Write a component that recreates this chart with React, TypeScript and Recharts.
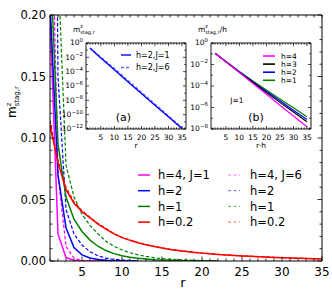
import React from 'react';
import { LineChart, Line, XAxis, YAxis } from 'recharts';

const FONT = "'DejaVu Sans', sans-serif";
const W = 332;
const H = 291;

// ---------------- main panel data ----------------
const rMagenta = [1, 2, 3, 4, 5, 6, 7, 8];
const magentaJ1 = [0.2, 0.022, 0.0028, 0.0005, 0.0001, 0.00002, 0.000004, 0.000001];
const magentaJ6 = [0.36, 0.07, 0.012, 0.0022, 0.0004, 0.0001, 0.00002, 0.000005];

const rBlue = [1, 2, 3, 4, 5, 6, 7, 8, 9, 10, 11, 12];
const blueJ1 = [0.21, 0.07, 0.027, 0.011, 0.005, 0.0025, 0.0012, 0.0006, 0.0003, 0.00015, 0.00008, 0.00004];
const blueJ6 = [0.9, 0.15, 0.042, 0.022, 0.013, 0.0075, 0.0042, 0.0024, 0.0014, 0.0008, 0.00045, 0.00025];

const rGreen = [1, 2, 3, 4, 5, 6, 7, 8, 9, 10, 11, 12, 13, 14, 15, 16, 17, 18, 19, 20, 21, 22];
const greenJ1 = [0.25, 0.095, 0.052, 0.034, 0.024, 0.017, 0.012, 0.0085, 0.006, 0.0043, 0.003, 0.0022, 0.0016, 0.0011, 0.0008, 0.0006, 0.0004, 0.0003, 0.0002, 0.00015, 0.0001, 0.00007];
const greenJ6 = [0.7, 0.24, 0.078, 0.052, 0.038, 0.029, 0.022, 0.016, 0.012, 0.009, 0.0067, 0.005, 0.0037, 0.0027, 0.002, 0.0015, 0.0011, 0.0008, 0.0006, 0.00045, 0.0003, 0.0002];

const rRed = [1, 2, 3, 4, 5, 6, 7, 8, 9, 10, 11, 12, 13, 14, 15, 16, 17, 18, 19, 20, 21, 22, 23, 24, 25, 26, 27, 28, 29, 30, 31, 32, 33, 34, 35];
const redJ1 = [0.11, 0.08, 0.058, 0.047, 0.04, 0.035, 0.03, 0.026, 0.022, 0.019, 0.0168, 0.0148, 0.0132, 0.0118, 0.0105, 0.0094, 0.0085, 0.0077, 0.007, 0.0064, 0.0058, 0.0053, 0.0049, 0.0045, 0.0041, 0.0038, 0.0035, 0.0032, 0.0029, 0.0027, 0.0024, 0.0022, 0.002, 0.0018, 0.0016];
const redJ6 = [0.114, 0.082, 0.06, 0.048, 0.041, 0.0355, 0.0305, 0.0264, 0.0224, 0.0193, 0.017, 0.015, 0.0134, 0.012, 0.0107, 0.0096, 0.0087, 0.0079, 0.0072, 0.0065, 0.0059, 0.0054, 0.005, 0.0046, 0.0042, 0.0039, 0.0036, 0.0033, 0.003, 0.0028, 0.0025, 0.0023, 0.0021, 0.0019, 0.0017];

const mainXTicks = [1, 2, 3, 4, 5, 6, 7, 8, 9, 10, 11, 12, 13, 14, 15, 16, 17, 18, 19, 20, 21, 22, 23, 24, 25, 26, 27, 28, 29, 30, 31, 32, 33, 34, 35];
const mainYTicks = [0, 0.01, 0.02, 0.03, 0.04, 0.05, 0.06, 0.07, 0.08, 0.09, 0.1, 0.11, 0.12, 0.13, 0.14, 0.15, 0.16, 0.17, 0.18, 0.19, 0.2];
const mainXLabels = [5, 10, 15, 20, 25, 30, 35];
const mainYLabels = [0, 0.05, 0.1, 0.15, 0.2];

const legendLeft = ['h=4, J=1', 'h=2', 'h=1', 'h=0.2'];
const legendRight = ['h=4, J=6', 'h=2', 'h=1', 'h=0.2'];
const hColors = ['#ff00ff', '#0000ff', '#008000', '#ff0000'];

// ---------------- inset (a) data ----------------
const rInset = [1, 5, 10, 15, 20, 25, 30, 35];
const insetA_J1 = [1.8e-1, 8e-3, 1.8e-4, 4e-6, 9e-8, 2e-9, 5e-11, 1.2e-12];
const insetA_J6 = [2e-1, 1.1e-2, 2.8e-4, 6.5e-6, 1.4e-7, 3.2e-9, 7e-11, 1.6e-12];
const insetALegend = ['h=2,J=1', 'h=2,J=6'];

// ---------------- inset (b) data ----------------
const insetB_h4 = [1.1e-1, 1.8e-2, 1.8e-3, 1.7e-4, 1.7e-5, 1.6e-6, 1.6e-7, 1.6e-8];
const insetB_h3 = [1.1e-1, 1.8e-2, 1.9e-3, 2.2e-4, 2.5e-5, 3e-6, 3.8e-7, 4.8e-8];
const insetB_h2 = [1.1e-1, 1.9e-2, 2e-3, 2.5e-4, 3.2e-5, 4.2e-6, 5.6e-7, 7.6e-8];
const insetB_h1 = [1.1e-1, 1.9e-2, 2.2e-3, 3e-4, 4.3e-5, 6.3e-6, 9.5e-7, 1.4e-7];
const insetBLegend = ['h=4', 'h=3', 'h=2', 'h=1'];
const insetBColors = ['#ff00ff', '#000000', '#0000ff', '#008000'];

const insetXTicks = [0, 1, 2, 3, 4, 5, 6, 7, 8, 9, 10, 11, 12, 13, 14, 15, 16, 17, 18, 19, 20, 21, 22, 23, 24, 25, 26, 27, 28, 29, 30, 31, 32, 33, 34, 35, 36];
const insetXLabels = [5, 10, 15, 20, 25, 30, 35];
const insetAYTicks = [1, 1e-1, 1e-2, 1e-3, 1e-4, 1e-5, 1e-6, 1e-7, 1e-8, 1e-9, 1e-10, 1e-11, 1e-12];
const insetBYTicks = [1, 1e-1, 1e-2, 1e-3, 1e-4, 1e-5, 1e-6, 1e-7, 1e-8];

const rows = (rs: number[], vs: number[]) => rs.map((r, i) => ({ r, v: vs[i] }));

// ---------------- tick renderers ----------------
const makeXTick = (labels: number[] | null, major: number, minor: number, dir: number, fs: number, dy: number) =>
  (props: any) => {
    const { x, y, payload } = props;
    const v = payload.value;
    const isMajor = labels ? labels.includes(v) : false;
    const len = isMajor ? major : minor;
    return (
      <g>
        <line x1={x} x2={x} y1={y} y2={y + dir * len} stroke="#000" strokeWidth={0.8} />
        {labels && isMajor && dir < 0 ? (
          <text x={x} y={y + dy} textAnchor="middle" fontSize={fs} fontFamily={FONT} fill="#000">{v}</text>
        ) : null}
      </g>
    );
  };

const makeYTick = (labels: number[], major: number, minor: number, dir: number, fs: number, showLabel: boolean) =>
  (props: any) => {
    const { x, y, payload } = props;
    const v = payload.value;
    const isMajor = labels.some((l) => Math.abs(l - v) < 1e-9);
    const len = isMajor ? major : minor;
    return (
      <g>
        <line x1={x} x2={x + dir * len} y1={y} y2={y} stroke="#000" strokeWidth={0.8} />
        {showLabel && isMajor ? (
          <text x={x - 4} y={y} dy="0.36em" textAnchor="end" fontSize={fs} fontFamily={FONT} fill="#000">{v.toFixed(2)}</text>
        ) : null}
      </g>
    );
  };

const makeLogYTick = (labelEvery: number, dir: number, showLabel: boolean) =>
  (props: any) => {
    const { x, y, payload } = props;
    const e = Math.round(Math.log10(payload.value));
    const isMajor = e % labelEvery === 0;
    const len = isMajor ? 3 : 1.8;
    return (
      <g>
        <line x1={x} x2={x + dir * len} y1={y} y2={y} stroke="#000" strokeWidth={0.7} />
        {showLabel && isMajor ? (
          <text x={x - 3} y={y} dy="0.32em" textAnchor="end" fontSize={7.5} fontFamily={FONT} fill="#000">
            10<tspan fontSize={5.5} dy={-3.5}>{String(e).replace('-', '\u2212')}</tspan>
          </text>
        ) : null}
      </g>
    );
  };

const abs: React.CSSProperties = { position: 'absolute', left: 0, top: 0 };

// plot box of the main panel: x 50..322, y 15..261 (axes take 1px each outside)
const MainChart = () => (
  <LineChart width={W} height={H} margin={{ top: 14, right: 9, bottom: 29, left: 49 }}>
    <XAxis xAxisId="b" dataKey="r" type="number" domain={[1, 35]} allowDataOverflow ticks={mainXTicks} interval={0}
      height={1} tickSize={0} tickMargin={0} tickLine={false} axisLine={{ stroke: '#000' }}
      tick={makeXTick(mainXLabels, 4.5, 2.5, -1, 12, 15)} />
    <XAxis xAxisId="t" orientation="top" dataKey="r" type="number" domain={[1, 35]} allowDataOverflow ticks={mainXTicks} interval={0}
      height={1} tickSize={0} tickMargin={0} tickLine={false} axisLine={{ stroke: '#000' }}
      tick={makeXTick(null, 4.5, 2.5, 1, 12, 0)} />
    <YAxis yAxisId="l" type="number" domain={[0, 0.2]} allowDataOverflow ticks={mainYTicks} interval={0}
      width={1} tickSize={0} tickMargin={0} tickLine={false} axisLine={{ stroke: '#000' }}
      tick={makeYTick(mainYLabels, 4.5, 2.5, 1, 11.5, true)} />
    <YAxis yAxisId="r" orientation="right" type="number" domain={[0, 0.2]} allowDataOverflow ticks={mainYTicks} interval={0}
      width={1} tickSize={0} tickMargin={0} tickLine={false} axisLine={{ stroke: '#000' }}
      tick={makeYTick(mainYLabels, 4.5, 2.5, -1, 11.5, false)} />
    <Line xAxisId="b" yAxisId="l" data={rows(rRed, redJ6)} dataKey="v" stroke={hColors[3]} strokeWidth={1.2} strokeDasharray="3.5 2" dot={false} isAnimationActive={false} />
    <Line xAxisId="b" yAxisId="l" data={rows(rGreen, greenJ6)} dataKey="v" stroke={hColors[2]} strokeWidth={1.2} strokeDasharray="3.5 2" dot={false} isAnimationActive={false} />
    <Line xAxisId="b" yAxisId="l" data={rows(rBlue, blueJ6)} dataKey="v" stroke={hColors[1]} strokeWidth={1.2} strokeDasharray="3.5 2" dot={false} isAnimationActive={false} />
    <Line xAxisId="b" yAxisId="l" data={rows(rMagenta, magentaJ6)} dataKey="v" stroke={hColors[0]} strokeWidth={1.2} strokeDasharray="3.5 2" dot={false} isAnimationActive={false} />
    <Line xAxisId="b" yAxisId="l" data={rows(rMagenta, magentaJ1)} dataKey="v" stroke={hColors[0]} strokeWidth={1.5} dot={false} isAnimationActive={false} />
    <Line xAxisId="b" yAxisId="l" data={rows(rBlue, blueJ1)} dataKey="v" stroke={hColors[1]} strokeWidth={1.5} dot={false} isAnimationActive={false} />
    <Line xAxisId="b" yAxisId="l" data={rows(rGreen, greenJ1)} dataKey="v" stroke={hColors[2]} strokeWidth={1.5} dot={false} isAnimationActive={false} />
    <Line xAxisId="b" yAxisId="l" data={rows(rRed, redJ1)} dataKey="v" stroke={hColors[3]} strokeWidth={1.5} dot={false} isAnimationActive={false} />
  </LineChart>
);

const InsetA = () => (
  <LineChart width={W} height={H} margin={{ top: 42, right: 145, bottom: 161, left: 85 }}>
    <XAxis xAxisId="b" dataKey="r" type="number" domain={[-0.5, 36.5]} allowDataOverflow ticks={insetXTicks} interval={0}
      height={1} tickSize={0} tickMargin={0} tickLine={false} axisLine={{ stroke: '#000', strokeWidth: 0.9 }}
      tick={makeXTick(insetXLabels, 3, 1.6, -1, 7.5, 10.5)} />
    <XAxis xAxisId="t" orientation="top" dataKey="r" type="number" domain={[-0.5, 36.5]} allowDataOverflow ticks={insetXTicks} interval={0}
      height={1} tickSize={0} tickMargin={0} tickLine={false} axisLine={{ stroke: '#000', strokeWidth: 0.9 }}
      tick={makeXTick(insetXLabels, 3, 1.6, 1, 7.5, 0)} />
    <YAxis yAxisId="l" type="number" scale="log" domain={[1e-12, 1]} allowDataOverflow ticks={insetAYTicks} interval={0}
      width={1} tickSize={0} tickMargin={0} tickLine={false} axisLine={{ stroke: '#000', strokeWidth: 0.9 }}
      tick={makeLogYTick(2, 1, true)} />
    <YAxis yAxisId="r" orientation="right" type="number" scale="log" domain={[1e-12, 1]} allowDataOverflow ticks={insetAYTicks} interval={0}
      width={1} tickSize={0} tickMargin={0} tickLine={false} axisLine={{ stroke: '#000', strokeWidth: 0.9 }}
      tick={makeLogYTick(2, -1, false)} />
    <Line xAxisId="b" yAxisId="l" data={rows(rInset, insetA_J6)} dataKey="v" stroke="#6666ff" strokeWidth={1.2} strokeDasharray="3 2" dot={false} isAnimationActive={false} />
    <Line xAxisId="b" yAxisId="l" data={rows(rInset, insetA_J1)} dataKey="v" stroke="#0000ff" strokeWidth={1.4} dot={false} isAnimationActive={false} />
  </LineChart>
);

const InsetB = () => (
  <LineChart width={W} height={H} margin={{ top: 42, right: 20, bottom: 161, left: 210 }}>
    <XAxis xAxisId="b" dataKey="r" type="number" domain={[-0.5, 36.5]} allowDataOverflow ticks={insetXTicks} interval={0}
      height={1} tickSize={0} tickMargin={0} tickLine={false} axisLine={{ stroke: '#000', strokeWidth: 0.9 }}
      tick={makeXTick(insetXLabels, 3, 1.6, -1, 7.5, 10.5)} />
    <XAxis xAxisId="t" orientation="top" dataKey="r" type="number" domain={[-0.5, 36.5]} allowDataOverflow ticks={insetXTicks} interval={0}
      height={1} tickSize={0} tickMargin={0} tickLine={false} axisLine={{ stroke: '#000', strokeWidth: 0.9 }}
      tick={makeXTick(insetXLabels, 3, 1.6, 1, 7.5, 0)} />
    <YAxis yAxisId="l" type="number" scale="log" domain={[1e-8, 1]} allowDataOverflow ticks={insetBYTicks} interval={0}
      width={1} tickSize={0} tickMargin={0} tickLine={false} axisLine={{ stroke: '#000', strokeWidth: 0.9 }}
      tick={makeLogYTick(2, 1, true)} />
    <YAxis yAxisId="r" orientation="right" type="number" scale="log" domain={[1e-8, 1]} allowDataOverflow ticks={insetBYTicks} interval={0}
      width={1} tickSize={0} tickMargin={0} tickLine={false} axisLine={{ stroke: '#000', strokeWidth: 0.9 }}
      tick={makeLogYTick(2, -1, false)} />
    <Line xAxisId="b" yAxisId="l" data={rows(rInset, insetB_h1)} dataKey="v" stroke={insetBColors[3]} strokeWidth={1.2} dot={false} isAnimationActive={false} />
    <Line xAxisId="b" yAxisId="l" data={rows(rInset, insetB_h2)} dataKey="v" stroke={insetBColors[2]} strokeWidth={1.2} dot={false} isAnimationActive={false} />
    <Line xAxisId="b" yAxisId="l" data={rows(rInset, insetB_h3)} dataKey="v" stroke={insetBColors[1]} strokeWidth={1.2} dot={false} isAnimationActive={false} />
    <Line xAxisId="b" yAxisId="l" data={rows(rInset, insetB_h4)} dataKey="v" stroke={insetBColors[0]} strokeWidth={1.2} dot={false} isAnimationActive={false} />
  </LineChart>
);

const Annotations = () => (
  <svg width={W} height={H} style={{ ...abs, pointerEvents: 'none' }} fontFamily={FONT}>
    <text x={183} y={287} textAnchor="middle" fontSize={13}>r</text>
    <text transform="translate(16,118) rotate(-90)" fontSize={12}>
      m<tspan fontSize={7} dy={-5.5}>z</tspan><tspan fontSize={7} dx={-3.7} dy={8.5}>stag,r</tspan>
    </text>
    {legendLeft.map((t, i) => (
      <g key={'ll' + i}>
        <line x1={138} x2={150} y1={175 + i * 15.7} y2={175 + i * 15.7} stroke={hColors[i]} strokeWidth={1.5} />
        <text x={158} y={175 + i * 15.7} dy="0.36em" fontSize={11.5}>{t}</text>
      </g>
    ))}
    {legendRight.map((t, i) => (
      <g key={'lr' + i}>
        <line x1={228} x2={240} y1={175 + i * 15.7} y2={175 + i * 15.7} stroke={hColors[i]} strokeWidth={1} strokeDasharray="3 2.5" opacity={0.6} />
        <text x={250} y={175 + i * 15.7} dy="0.36em" fontSize={11.5}>{t}</text>
      </g>
    ))}
    <text x={73} y={32} fontSize={7.5}>
      m<tspan fontSize={5} dy={-4}>z</tspan><tspan fontSize={5} dx={-2.7} dy={6}>stag,r</tspan>
    </text>
    <text x={136} y={148} textAnchor="middle" fontSize={7.5}>r</text>
    <text x={123.5} y={121} textAnchor="middle" fontSize={11}>(a)</text>
    {insetALegend.map((t, i) => (
      <g key={'la' + i}>
        <line x1={121} x2={131} y1={55 + i * 12.5} y2={55 + i * 12.5} stroke={i === 0 ? '#0000ff' : '#6666ff'} strokeWidth={1.4} strokeDasharray={i === 0 ? undefined : '3 2'} />
        <text x={136} y={55 + i * 12.5} dy="0.36em" fontSize={8}>{t}</text>
      </g>
    ))}
    <text x={198} y={32} fontSize={7.5}>
      m<tspan fontSize={5} dy={-4}>z</tspan><tspan fontSize={5} dx={-2.7} dy={6}>stag,r</tspan><tspan dy={-2}>/h</tspan>
    </text>
    <text x={261} y={148} textAnchor="middle" fontSize={7.5}>r·h</text>
    <text x={237} y={103} textAnchor="middle" fontSize={7.5}>J=1</text>
    <text x={256} y={121} textAnchor="middle" fontSize={11}>(b)</text>
    {insetBLegend.map((t, i) => (
      <g key={'lb' + i}>
        <line x1={263} x2={275} y1={56 + i * 8.1} y2={56 + i * 8.1} stroke={insetBColors[i]} strokeWidth={1.6} />
        <text x={281} y={56 + i * 8.1} dy="0.36em" fontSize={7.5}>{t}</text>
      </g>
    ))}
  </svg>
);

export default function App() {
  return (
    <div style={{ position: 'absolute', left: 0, top: 0, width: W, height: H, background: '#fff' }}>
      <div style={abs}><MainChart /></div>
      <div style={abs}><InsetA /></div>
      <div style={abs}><InsetB /></div>
      <Annotations />
    </div>
  );
}
